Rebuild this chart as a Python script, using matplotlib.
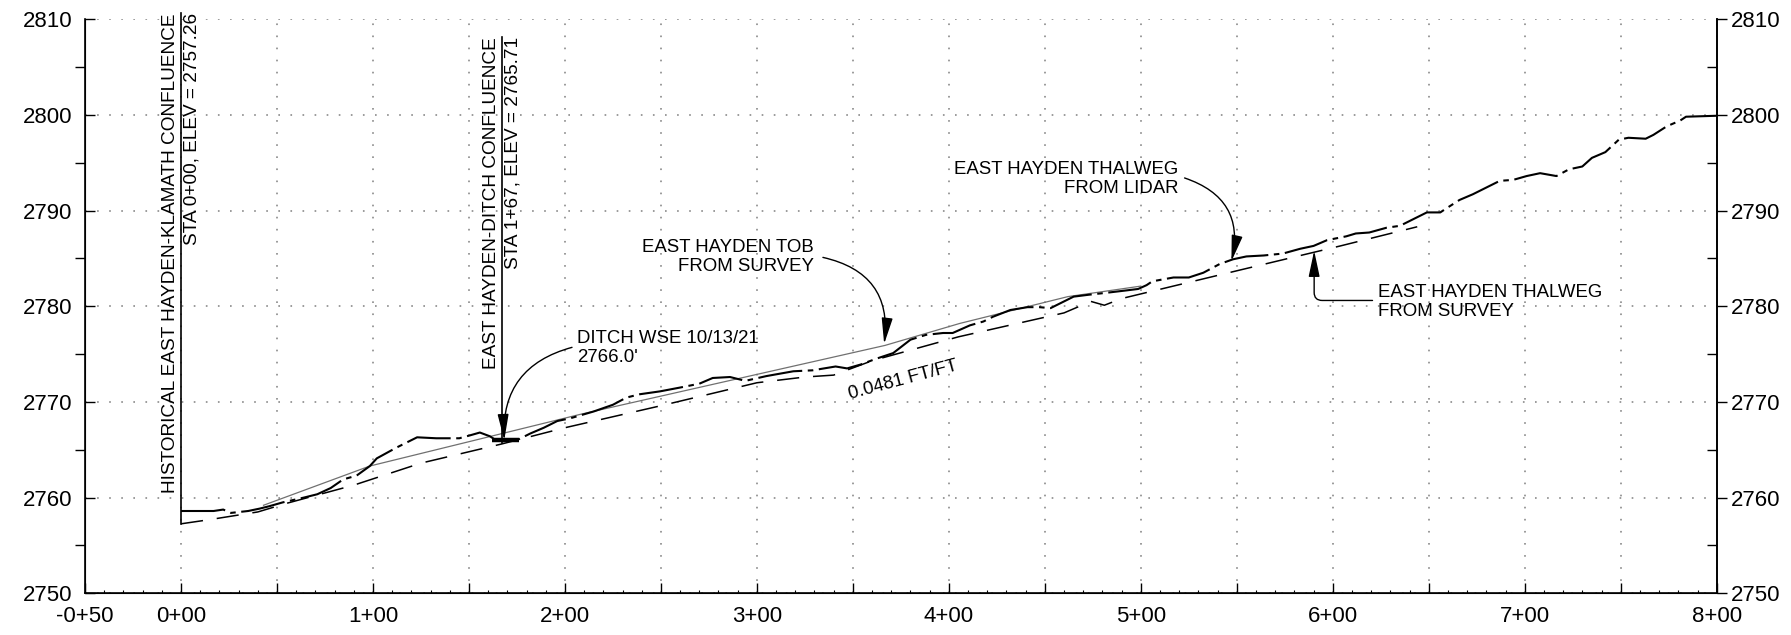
import matplotlib
matplotlib.use("Agg")
import matplotlib.pyplot as plt
from matplotlib.ticker import FixedLocator, MultipleLocator, FuncFormatter

plt.rcParams["font.family"] = ["Liberation Sans", "DejaVu Sans"]
plt.rcParams["lines.scale_dashes"] = False

# thalweg from lidar (station ft, elevation ft)
lidar_sta = [0, 17, 22, 26, 35, 41, 46, 53, 64, 71, 78, 84.5, 91.5, 98.4, 102, 112,
             123, 133, 145, 150.5, 155.7, 161, 164, 168, 176, 182, 189, 196, 203,
             215, 225, 232, 239, 249.5, 260, 270, 277, 286, 294, 305, 319, 329, 341,
             347, 354, 362, 371, 380, 388, 397, 402, 411, 418, 423, 432, 441, 447,
             453, 458, 465, 473, 482, 492.5, 498.6, 503, 506, 517, 525, 532.6, 541,
             548, 555, 564, 574, 583, 590, 597, 607, 612, 619, 628, 635, 640, 645,
             649, 656, 659, 666, 673, 680, 687, 694, 701, 708, 716.5, 723, 730, 735,
             742, 749, 754, 763, 767, 774, 781, 784, 800]
lidar_elev = [2758.6, 2758.6, 2758.75, 2758.4, 2758.6, 2758.85, 2759.1, 2759.5, 2760.0,
              2760.35, 2761.0, 2761.9, 2762.3, 2763.3, 2764.1, 2765.2, 2766.3, 2766.2,
              2766.2, 2766.5, 2766.8, 2766.4, 2766.0, 2765.9, 2766.1, 2766.7, 2767.3,
              2768.0, 2768.3, 2769.0, 2769.7, 2770.45, 2770.8, 2771.1, 2771.5, 2771.9,
              2772.5, 2772.6, 2772.2, 2772.7, 2773.2, 2773.3, 2773.7, 2773.5, 2773.9,
              2774.5, 2775.1, 2776.5, 2777.0, 2777.2, 2777.2, 2778.0, 2778.4, 2778.9,
              2779.6, 2779.9, 2779.9, 2779.8, 2780.3, 2781.0, 2781.2, 2781.4, 2781.65,
              2781.8, 2782.2, 2782.6, 2783.0, 2783.0, 2783.5, 2784.4, 2784.9, 2785.2,
              2785.3, 2785.5, 2786.0, 2786.3, 2786.9, 2787.3, 2787.6, 2787.7, 2788.2,
              2788.4, 2788.9, 2789.4, 2789.8, 2789.8, 2790.2, 2791.1, 2791.7, 2792.4,
              2793.1, 2793.2, 2793.6, 2793.9, 2793.6, 2794.3, 2794.6, 2795.5, 2796.1,
              2797.4, 2797.6, 2797.5, 2797.9, 2798.8, 2799.4, 2799.8, 2799.9]

# thalweg from survey
survey_sta = [0, 15, 40, 55, 90, 125, 167, 200, 250, 300, 325, 340, 360, 405, 460,
              474, 481, 490, 550, 604, 644]
survey_elev = [2757.26, 2757.7, 2758.5, 2759.4, 2761.3, 2763.6, 2765.6, 2767.3, 2769.6,
               2772.0, 2772.6, 2772.8, 2774.3, 2776.8, 2779.3, 2780.5, 2780.1, 2780.8,
               2783.7, 2786.3, 2788.3]

# top of bank from survey
tob_sta = [43, 98.4, 208, 366.7, 405.7, 462, 500]
tob_elev = [2759.2, 2763.3, 2768.7, 2775.9, 2778.2, 2781.0, 2782.1]

# ditch water surface
ditch_sta = [162, 176]
ditch_elev = [2766.0, 2766.0]

# confluence markers: station, elevation, top of line
conf1 = (0, 2757.26, 2810.6)
conf2 = (167, 2765.71, 2808.1)


def sta_fmt(v, pos):
    v = int(round(v))
    if v % 100 != 0 and v != -50:
        return ""
    sign = "-" if v < 0 else ""
    a = abs(v)
    return f"{sign}{a // 100}+{a % 100:02d}"


fig = plt.figure(figsize=(17.91, 6.35), dpi=100)
ax = fig.add_axes([0.04746, 0.06567, 0.95852 - 0.04746, 0.96992 - 0.06567])
ax.set_xlim(-50, 800)
ax.set_ylim(2750, 2810)

grid_ls = (0, (1.2, 7.5))
ax.xaxis.set_major_locator(FixedLocator(list(range(-50, 801, 50))))
ax.xaxis.set_minor_locator(MultipleLocator(10))
ax.xaxis.set_major_formatter(FuncFormatter(sta_fmt))
ax.yaxis.set_major_locator(MultipleLocator(10))
ax.yaxis.set_minor_locator(MultipleLocator(5))
ax.grid(True, which="major", color="#8a8a8a", linestyle=grid_ls, linewidth=1.2)

ax.spines["top"].set_visible(False)
for s in ("left", "right", "bottom"):
    ax.spines[s].set_linewidth(1.2)

ax.tick_params(axis="x", which="major", direction="in", length=7, width=1.0,
               labelsize=16, pad=9)
ax.tick_params(axis="x", which="minor", direction="in", length=2.5, width=0.8)
ax.tick_params(axis="y", which="major", direction="in", length=7, width=1.0,
               labelsize=16, pad=9)
ax.tick_params(axis="y", which="minor", direction="out", length=7, width=1.0)

ax2 = ax.twinx()
ax2.set_ylim(2750, 2810)
ax2.spines["top"].set_visible(False)
ax2.spines["right"].set_linewidth(1.2)
ax2.yaxis.set_major_locator(MultipleLocator(10))
ax2.yaxis.set_minor_locator(MultipleLocator(5))
ax2.tick_params(axis="y", which="major", direction="out", length=7, width=1.0,
                labelsize=16, pad=3.5)
ax2.tick_params(axis="y", which="minor", direction="in", length=7, width=1.0)

# profile lines
ax.plot(tob_sta, tob_elev, color="#707070", linewidth=0.9)
ax.plot(survey_sta, survey_elev, color="black", linewidth=1.1,
        linestyle=(0, (16, 10)))
ax.plot(lidar_sta, lidar_elev, color="black", linewidth=1.5,
        linestyle=(0, (32, 4, 4, 4)))
ax.plot(ditch_sta, ditch_elev, color="black", linewidth=3.2, solid_capstyle="butt")

# confluence lines and labels
for sta, elev, top in (conf1, conf2):
    ax.plot([sta, sta], [elev, top], color="black", linewidth=1.2, clip_on=False)

txt = dict(fontsize=13.4, color="black")
vtxt = dict(fontsize=13.7, color="black")
ax.annotate("HISTORICAL EAST HAYDEN-KLAMATH CONFLUENCE", xy=(conf1[0], conf1[2]),
            xytext=(-1.2, 0), textcoords="offset points", rotation=90,
            ha="right", va="top", annotation_clip=False, **vtxt)
ax.annotate("STA 0+00, ELEV = 2757.26", xy=(conf1[0], conf1[2]),
            xytext=(2.0, 0), textcoords="offset points", rotation=90,
            ha="left", va="top", annotation_clip=False, **vtxt)
ax.annotate("EAST HAYDEN-DITCH CONFLUENCE", xy=(conf2[0], conf2[2]),
            xytext=(-1.2, 0), textcoords="offset points", rotation=90,
            ha="right", va="top", **vtxt)
ax.annotate("STA 1+67, ELEV = 2765.71", xy=(conf2[0], conf2[2]),
            xytext=(2.0, 0), textcoords="offset points", rotation=90,
            ha="left", va="top", **vtxt)

# callouts
ax.text(206.3, 2775.6, "DITCH WSE 10/13/21\n2766.0'", ha="left", va="center",
        linespacing=1.15, **txt)
ax.text(329.7, 2785.1, "EAST HAYDEN TOB\nFROM SURVEY", ha="right", va="center",
        linespacing=1.15, multialignment="right", **txt)
ax.text(519.7, 2793.3, "EAST HAYDEN THALWEG\nFROM LIDAR", ha="right", va="center",
        linespacing=1.15, multialignment="right", **txt)
ax.text(623.8, 2780.4, "EAST HAYDEN THALWEG\nFROM SURVEY", ha="left", va="center",
        linespacing=1.15, **txt)
ax.text(376, 2772.3, "0.0481 FT/FT", ha="center", va="center", rotation=15,
        rotation_mode="anchor", **txt)

arrow = dict(arrowstyle="-|>,head_length=0.8,head_width=0.17", color="black",
             lw=1.0, shrinkA=0, shrinkB=0, mutation_scale=20)
ax.annotate("", xy=(168.4, 2766.0), xytext=(203.7, 2775.7),
            arrowprops=dict(connectionstyle="arc3,rad=0.4", **arrow))
ax.annotate("", xy=(366.3, 2776.06), xytext=(334.4, 2785.1),
            arrowprops=dict(connectionstyle="arc3,rad=-0.45", **arrow))
ax.annotate("", xy=(547.2, 2784.7), xytext=(522.8, 2793.4),
            arrowprops=dict(connectionstyle="arc3,rad=-0.45", **arrow))
ax.annotate("", xy=(590.3, 2785.8), xytext=(620.7, 2780.6),
            arrowprops=dict(connectionstyle="angle,angleA=0,angleB=90,rad=8", **arrow))

fig.savefig("out.png", dpi=100)
